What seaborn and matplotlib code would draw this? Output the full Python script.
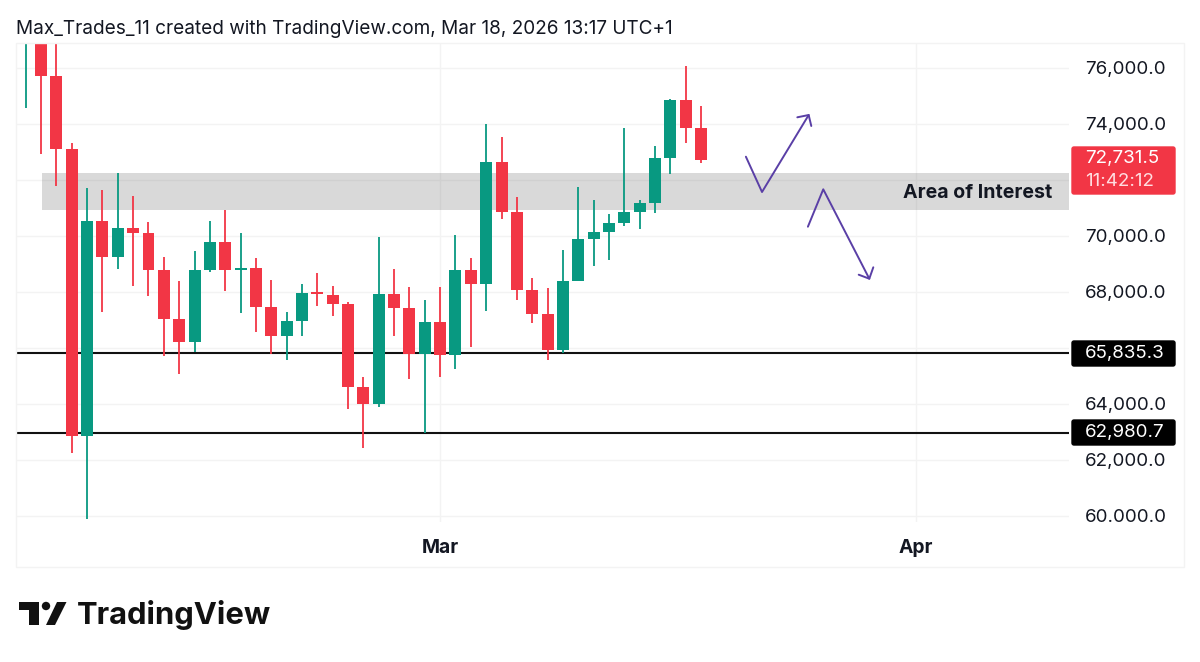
#!/usr/bin/env python3

# Daily candles with support levels and drawn scenarios
import matplotlib.patches as mpatches
import matplotlib.pyplot as plt
import matplotlib.transforms as mtransforms
import numpy as np
import pandas as pd
import seaborn as sns

# Candle values, one per day from Feb 2
opens = [76900, 77300, 75714, 73118, 62868, 70525, 69239, 70275, 70107, 68786, 67025, 66225, 68796, 69786, 68775,
         68857, 67464, 66418, 66964, 67989, 67904, 67582, 64596, 64000, 67939, 67439, 65796, 66918, 65739, 68786,
         68286, 72632, 70846, 68071, 67204, 65918, 68382, 69893, 70143, 70464, 70857, 71168, 72775, 74846, 73857]
closes = [77600, 75714, 73118, 62868, 70525, 69239, 70275, 70107, 68786, 67025, 66225, 68796, 69786, 68786, 68857,
          67464, 66418, 66964, 67964, 67939, 67582, 64596, 64000, 67939, 67439, 65796, 66918, 65739, 68786, 68286,
          72632, 70846, 68071, 67204, 65918, 68382, 69893, 70143, 70464, 70857, 71168, 72775, 74846, 73857, 72731.5]
highs = [78000, 77800, 77000, 73321, 71725, 71654, 72250, 71429, 70511, 69261, 68393, 69454, 70546, 70929, 70096,
         69225, 68429, 67286, 68296, 68668, 68214, 67643, 64954, 69975, 68821, 68179, 67714, 68179, 70046, 69214,
         74011, 73536, 71382, 68511, 68154, 69489, 71761, 71286, 70775, 73857, 71275, 73214, 74904, 76071, 74643]
lows = [74571, 72929, 71796, 62250, 59893, 67296, 68832, 68214, 67868, 65714, 65061, 65846, 68704, 68046, 67239,
        66561, 65786, 65571, 66439, 67511, 67154, 63832, 62418, 63882, 66439, 64882, 62975, 64975, 65239, 66046,
        67332, 70618, 67714, 66882, 65571, 65821, 68382, 68929, 69154, 70346, 70261, 70821, 72214, 73332, 72618]

# Axis labels
price_ticks = [76000, 74000, 72000, 70000, 68000, 66000, 64000, 62000, 60000]
price_labels = ["76,000.0", "74,000.0", "", "70,000.0", "68,000.0", "", "64,000.0", "62,000.0", "60.000.0"]
date_ticks = [27, 58]
date_labels = ["Mar", "Apr"]

# Drawn levels and zone
levels = [65835.3, 62980.7]
level_labels = ["65,835.3", "62,980.7"]
zone_low, zone_high = 70911, 72250
zone_start = 1.06

# Drawn arrows (day index, price)
up_x = [46.92, 47.97, 51.01]
up_y = [72832, 71571, 74321]
up_head_x = [50.27, 51.01, 51.18]
up_head_y = [74239, 74321, 73929]
down_x = [50.96, 51.96, 54.96]
down_y = [70332, 71668, 68475]
down_head_x = [54.27, 54.96, 55.22]
down_head_y = [68618, 68475, 68882]

RED = "#F23645"
GREEN = "#089981"
PURPLE = "#5A3FA6"
FONT = "Inter"
PRICE_SIZE = 13.5

sns.set_theme(style="white")
plt.rcParams["font.family"] = [FONT, "DejaVu Sans"]

candles = pd.DataFrame({"open": opens, "close": closes, "high": highs, "low": lows})
candles["day"] = np.arange(len(candles))
candles["color"] = np.where(candles["close"] >= candles["open"], GREEN, RED)

fig = plt.figure(figsize=(12, 6.62), dpi=100, facecolor="white")
ax = fig.add_axes([16 / 1200, 1 - 522 / 662, 1053 / 1200, 479 / 662])

# Grid and zone
ax.set_xlim(-0.632, 67.97)
ax.set_ylim(59786, 76893)
ax.set_yticks(price_ticks, labels=price_labels)
ax.set_xticks(date_ticks, labels=date_labels)
ax.yaxis.tick_right()
ax.grid(True, color="#F3F3F3", linewidth=1.0)
ax.set_axisbelow(True)
ax.tick_params(axis="both", length=0, colors="#131722")
ax.tick_params(axis="y", pad=11.5, labelsize=PRICE_SIZE)
ax.tick_params(axis="x", pad=12, labelsize=13.9)
for lab in ax.get_xticklabels():
    lab.set_fontweight("bold")
# price labels sit a pixel above their grid lines
nudge = mtransforms.ScaledTranslation(0, 1 / 100, fig.dpi_scale_trans)
for lab in ax.get_yticklabels():
    lab.set_transform(lab.get_transform() + nudge)
sns.despine(ax=ax, left=True, right=True, top=True, bottom=True)

ax.axhspan(zone_low, zone_high, xmin=(zone_start + 0.632) / 68.602, color="#777777", alpha=0.28, lw=0, zorder=1)
ax.text(66.9, (zone_low + zone_high) / 2 - 60, "Area of Interest", ha="right", va="center",
        fontsize=14.1, fontweight="bold", color="#131722", zorder=5)

# Levels
for level in levels:
    ax.axhline(level, color="#111111", linewidth=1.5, zorder=2)

# Candles
ax.vlines(candles["day"], candles["low"], candles["high"], colors=candles["color"], linewidth=1.3, zorder=3)
ax.bar(candles["day"], (candles["close"] - candles["open"]).abs(), bottom=candles[["open", "close"]].min(axis=1),
       width=0.78, color=candles["color"], linewidth=0, zorder=4)

# Scenario arrows
for xs, ys in [(up_x, up_y), (up_head_x, up_head_y), (down_x, down_y), (down_head_x, down_head_y)]:
    sns.lineplot(x=xs, y=ys, sort=False, estimator=None, ax=ax, color=PURPLE, linewidth=1.4, zorder=6)
ax.set_xlabel("")
ax.set_ylabel("")

# Frame, price tags, header and logo in pixel coordinates
over = fig.add_axes([0, 0, 1, 1], facecolor="none")
over.set_xlim(0, 1200)
over.set_ylim(662, 0)
over.axis("off")

over.add_patch(mpatches.Rectangle((16, 43), 1168, 524, fill=False, edgecolor="#F3F3F3", linewidth=1))
over.text(16, 29.5, "Max_Trades_11 created with TradingView.com, Mar 18, 2026 13:17 UTC+1",
          fontsize=13.68, color="#131722", va="center", ha="left")

for y0, label in zip([340, 419], level_labels):
    over.add_patch(mpatches.FancyBboxPatch((1072, y0 + 1), 103, 25, boxstyle="round,pad=0,rounding_size=2",
                                           facecolor="black", edgecolor="black", linewidth=1))
    over.text(1085, y0 + 13.5, label, color="white", fontsize=PRICE_SIZE, va="center", ha="left")

over.add_patch(mpatches.FancyBboxPatch((1072, 147), 103, 47, boxstyle="round,pad=0,rounding_size=2",
                                       facecolor=RED, edgecolor=RED, linewidth=1))
over.text(1085, 159, "72,731.5", color="white", fontsize=PRICE_SIZE, va="center", ha="left")
over.text(1085, 181, "11:42:12", color="#FFDDE0", fontsize=PRICE_SIZE, va="center", ha="left")

# TradingView mark
over.add_patch(mpatches.Polygon([(19, 602), (38.5, 602), (38.5, 625), (28.5, 625), (28.5, 610), (19, 610)],
                                facecolor="#111111", edgecolor="none"))
over.add_patch(mpatches.Circle((46, 606), 4.2, facecolor="#111111", edgecolor="none"))
over.add_patch(mpatches.Polygon([(57, 602), (66.5, 602), (55, 625), (46, 625)], facecolor="#111111", edgecolor="none"))
over.text(77, 615, "TradingView", fontsize=22.3, fontweight="bold", color="#111111", va="center", ha="left")

plt.savefig("out.png", dpi=100)
